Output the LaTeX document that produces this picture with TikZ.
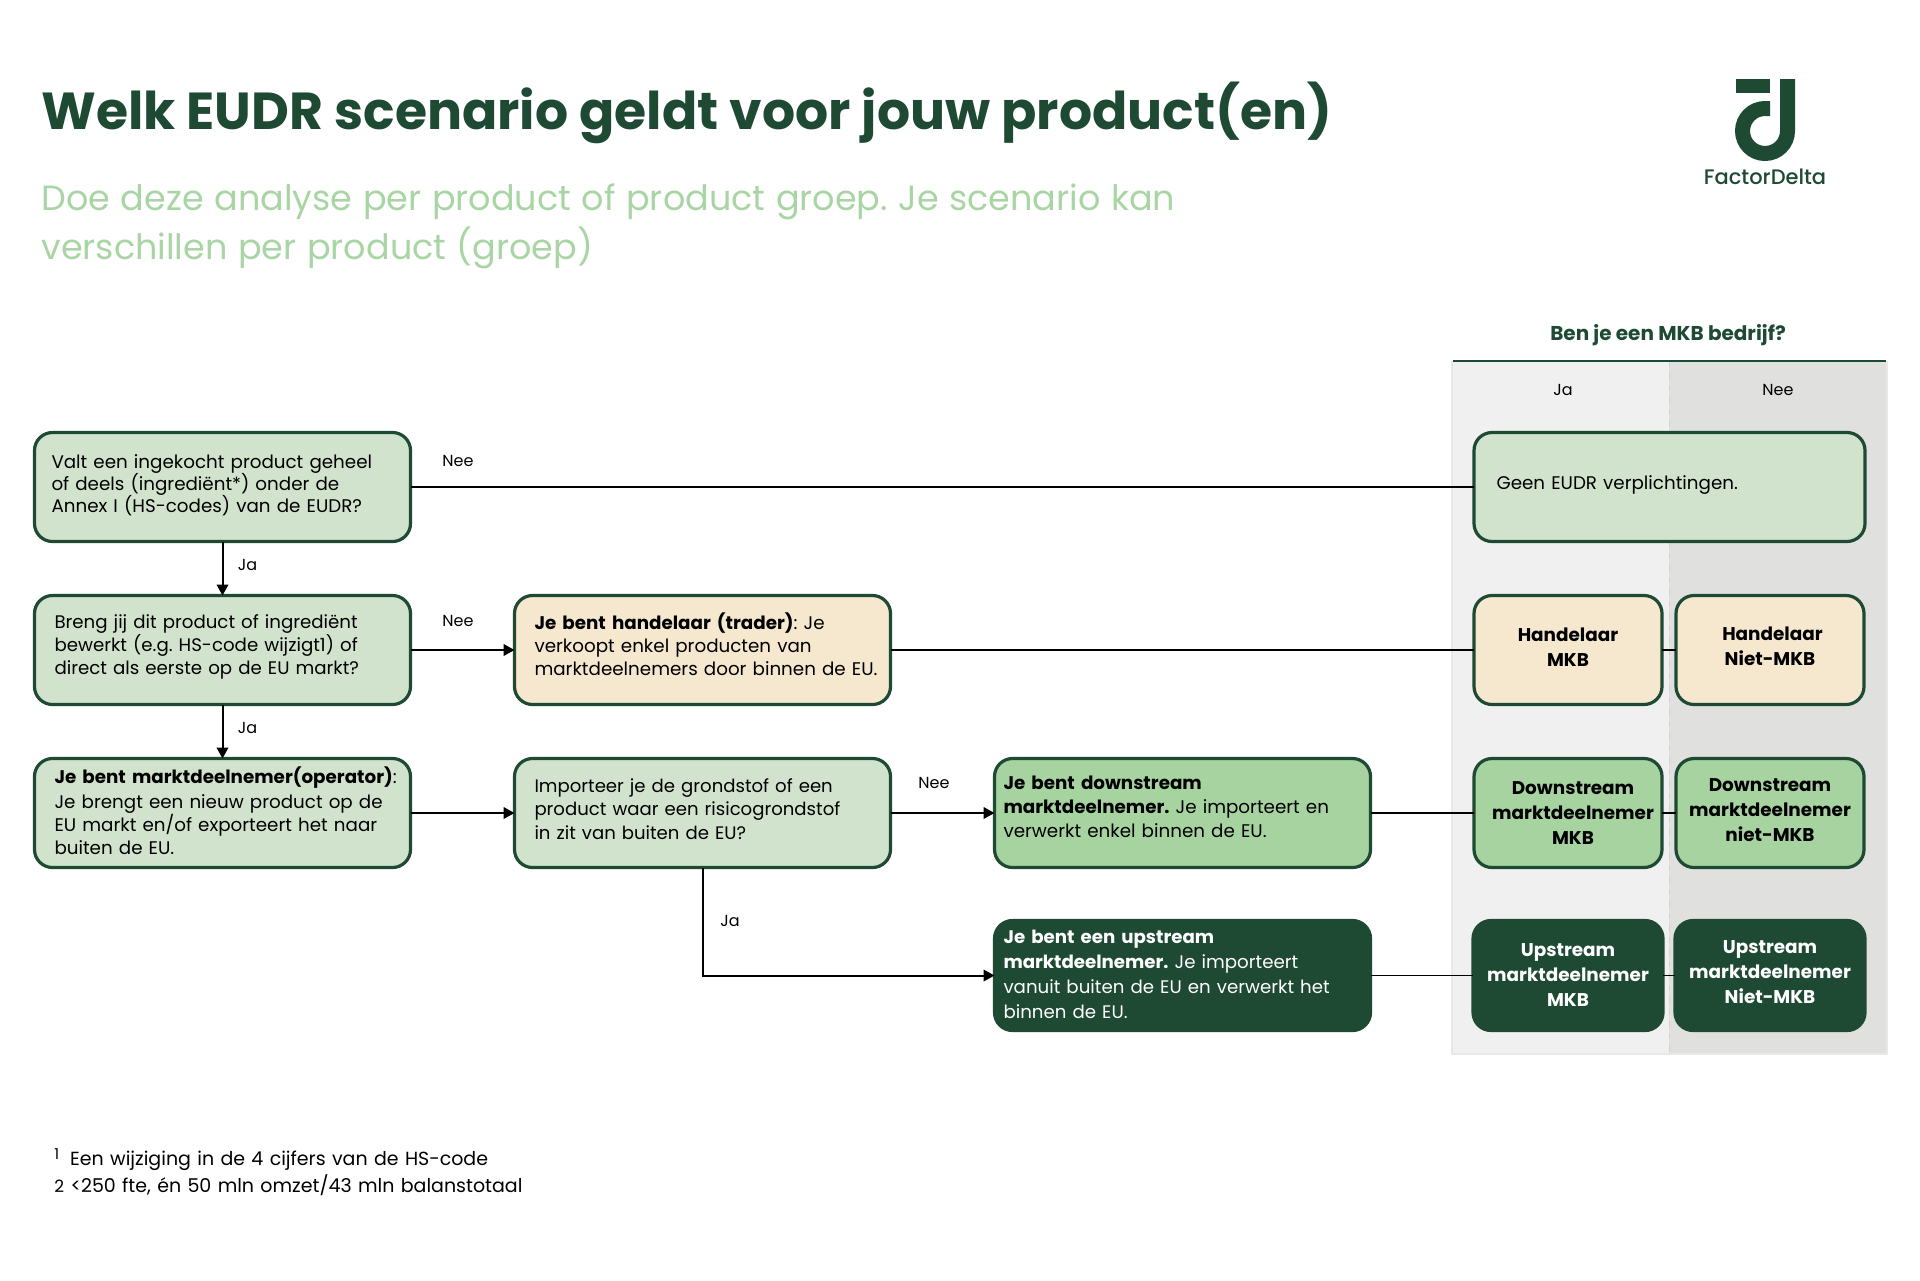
\documentclass[tikz,border=0pt]{standalone}
\usepackage{fontspec}
\setmainfont{Poppins}
\newfontfamily\medium{Poppins Medium}
\frenchspacing
\usetikzlibrary{positioning,arrows.meta}

\definecolor{donker}{HTML}{1E4A33}
\definecolor{licht}{HTML}{D2E3CD}
\definecolor{midden}{HTML}{A6D3A0}
\definecolor{zand}{HTML}{F6E7CF}
\definecolor{subtitel}{HTML}{A9D5A4}
\definecolor{paneelja}{HTML}{F0F0F0}
\definecolor{paneelnee}{HTML}{E0E0DE}
\definecolor{paneelrand}{HTML}{E8E8E8}

\tikzset{
	vak/.style={shape=rectangle, draw=donker, line width=1.6pt, rounded corners=9pt, outer sep=0pt, inner ysep=0pt, minimum height=54.5pt, align=left, font=\fontsize{9.15}{11.5}\selectfont},
	breed/.style={minimum width=188pt, text width={188pt-2*#1}, inner xsep=#1},
	klein/.style={minimum width=94pt, text width=91.5pt, inner xsep=1.25pt, align=center, font=\fontsize{9.2}{12.5}\selectfont\bfseries},
	hoger/.style={execute at end node={\par\kern #1}},
	pijl/.style={-{Triangle[width=5.8pt,length=5.5pt]}, line width=1pt, black},
	lijn/.style={line width=1pt, black},
	dunne lijn/.style={line width=.6pt, black},
	keuze/.style={font=\fontsize{8}{10}\selectfont, inner sep=0pt},
}

\begin{document}
\begin{tikzpicture}[x=0.5pt, y=-0.5pt]
	\useasboundingbox (0,0) rectangle (1920,1280);

	% panelen rechts
	\fill[paneelja] (1452,361) rectangle (1669,1054);
	\fill[paneelnee] (1669,361) rectangle (1887,1054);
	\draw[line width=.8pt, paneelrand] (1452,361) -- (1452,1054) -- (1887,1054) -- (1887,361);
	\draw[line width=.3pt, gray!35, dashed] (1669,361) -- (1669,1054);
	\draw[line width=1pt, donker] (1453,361) -- (1886,361);

	\node (titel) [anchor=base west, inner sep=0pt, text=donker, font=\fontsize{26.03}{34}\selectfont\bfseries] at (41,129) {Welk EUDR scenario geldt voor jouw product(en)};
	\node (uitleg) [anchor=base west, inner sep=0pt, text=subtitel, text width=640pt, align=left, font=\fontsize{17.5}{24.5}\selectfont] at (41,210) {\spaceskip=5.3pt\relax Doe deze analyse per product of product groep. Je scenario kan\\verschillen per product (groep)};

	% logo
	\fill[donker] (1736,79) rectangle (1770,93);
	\draw[line width=7.5pt, donker] (1770,108.5) -- (1765,108.5) arc[start angle=-90, end angle=-360, radius=22.5] -- (1787.5,79);
	\node (logonaam) [anchor=base, inner sep=0pt, text=donker, font=\fontsize{10.5}{12}\selectfont\medium] at (1765,184) {FactorDelta};

	% eerste rij
	\node (annex) [vak, fill=licht, breed=8.5pt, hoger=2pt, font=\fontsize{9.15}{11.1}\selectfont] at (222.5,487) {Valt een ingekocht product geheel\\of deels (ingrediënt*) onder de\\Annex I (HS-codes) van de EUDR?};
	\node (geen) [vak, fill=licht, minimum width=195.5pt, text width=173pt, inner xsep=11.25pt, hoger=2.5pt] at (1669.5,487) {Geen EUDR verplichtingen.};

	% tweede rij
	\node (bewerkt) [vak, fill=licht, breed=10pt, hoger=3.5pt, font=\fontsize{9.1}{11.5}\selectfont, below of=annex, node distance=81.5pt] {Breng jij dit product of ingrediënt\\bewerkt (e.g. HS-code wijzigt1) of\\direct als eerste op de EU markt?};
	\node (handelaar) [vak, fill=zand, breed=10pt, hoger=5.5pt, right of=bewerkt, node distance=240pt] {\textbf{Je bent handelaar (trader)}: Je\\verkoopt enkel producten van\\\mbox{marktdeelnemers door binnen de EU.}};
	\node (handmkb) [vak, fill=zand, klein, hoger=3pt] at (1568,650) {Handelaar\hspace*{5pt}\\MKB\hspace*{5pt}};
	\node (handniet) [vak, fill=zand, klein, hoger=4pt, right of=handmkb, node distance=101pt] {\hspace*{2.5pt}Handelaar\\Niet-MKB\hspace*{4.5pt}};

	% derde rij
	\node (operator) [vak, fill=licht, breed=10pt, hoger=2.5pt, below of=bewerkt, node distance=81.5pt] {\mbox{\textbf{Je bent marktdeelnemer(operator)}:}\\[1pt]Je brengt een nieuw product op de\\EU markt en/of exporteert het naar\\buiten de EU.};
	\node (importeer) [vak, fill=licht, breed=10pt, hoger=4pt, font=\fontsize{9.05}{11.9}\selectfont, right of=operator, node distance=240pt] {Importeer je de grondstof of een\\product waar een risicogrondstof\\in zit van buiten de EU?};
	\node (downstream) [vak, fill=midden, breed=4.5pt, hoger=6.5pt, font=\fontsize{9.15}{12}\selectfont, right of=importeer, node distance=240pt] {\textbf{Je bent downstream}\\\textbf{marktdeelnemer.} Je importeert en\\verwerkt enkel binnen de EU.};
	\node (downmkb) [vak, fill=midden, klein, below of=handmkb, node distance=81.5pt] {\hspace*{5pt}Downstream\\\mbox{\hspace*{5pt}marktdeelnemer}\\\hspace*{5pt}MKB};
	\node (downniet) [vak, fill=midden, klein, hoger=3pt, right of=downmkb, node distance=101pt] {Downstream\\marktdeelnemer\\niet-MKB};

	% vierde rij
	\node (upstream) [vak, fill=donker, text=white, breed=4.5pt, minimum height=55pt, hoger=1pt, font=\fontsize{9.1}{12.4}\selectfont, below of=downstream, node distance=81.25pt] {\textbf{Je bent een upstream}\\\textbf{marktdeelnemer.} Je importeert\\vanuit buiten de EU en verwerkt het\\binnen de EU.};
	\node (upmkb) [vak, fill=donker, text=white, klein, minimum width=95pt, minimum height=55pt, below of=downmkb, node distance=81.25pt] {Upstream\\marktdeelnemer\\MKB};
	\node (upniet) [vak, fill=donker, text=white, klein, minimum width=95pt, minimum height=55pt, hoger=3pt, right of=upmkb, node distance=101pt] {Upstream\\marktdeelnemer\\Niet-MKB};

	\draw [pijl] (annex.south) -- (bewerkt.north) node (jaeen) [keuze, pos=.43, xshift=12.5pt] {Ja};
	\draw [pijl] (bewerkt.south) -- (operator.north) node (jatwee) [keuze, pos=.43, xshift=12.5pt] {Ja};
	\draw [lijn] (annex.east) -- (geen.west);
	\draw [pijl] (bewerkt.east) -- (handelaar.west);
	\draw [lijn] (handelaar.east) -- (handmkb.west);
	\draw [lijn] (handmkb.east) -- (handniet.west);
	\draw [pijl] (operator.east) -- (importeer.west);
	\draw [pijl] (importeer.east) -- (downstream.west);
	\draw [dunne lijn] (downstream.east) -- (downmkb.west);
	\draw [dunne lijn] (downmkb.east) -- (downniet.west);
	\draw [pijl] (importeer.south) |- (upstream.west);
	\draw [dunne lijn] (upstream.east) -- (upmkb.west);
	\draw [dunne lijn] (upmkb.east) -- (upniet.west);

	\node (neeeen) [keuze] at (458,461) {Nee};
	\node (neetwee) [keuze] at (458,621) {Nee};
	\node (needrie) [keuze] at (934,783) {Nee};
	\node (jadrie) [keuze] at (730,921) {Ja};

	\node (vraag) [inner sep=0pt, text=donker, font=\fontsize{10}{12}\selectfont\bfseries] at (1668,335) {Ben je een MKB bedrijf?};
	\node (kopja) [keuze] at (1563,390) {Ja};
	\node (kopnee) [keuze] at (1778,390) {Nee};

	\node (voetnoot) [anchor=base west, inner sep=0pt, text width=400pt, align=left, font=\fontsize{9.5}{13.8}\selectfont] at (54,1165) {\raisebox{3pt}{\fontsize{7.5}{9}\selectfont 1}\hspace{5.5pt}Een wijziging in de 4 cijfers van de HS-code\\{\fontsize{8.5}{9}\selectfont 2}\hspace{3.2pt}<250 fte, én 50 mln omzet/43 mln balanstotaal};
\end{tikzpicture}
\end{document}
